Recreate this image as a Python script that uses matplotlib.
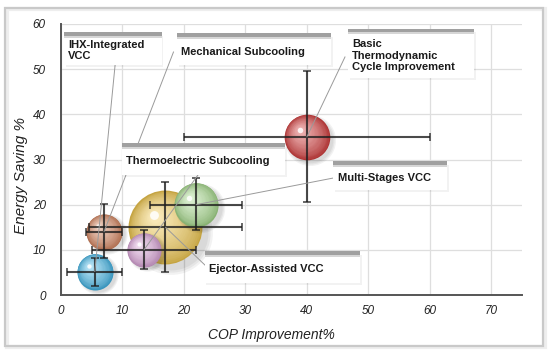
import matplotlib
matplotlib.use("Agg")
import numpy as np
import matplotlib.pyplot as plt
from matplotlib.patches import Rectangle
from matplotlib.transforms import offset_copy
from matplotlib.colors import to_rgb

plt.rcParams["font.family"] = ["Liberation Sans", "DejaVu Sans"]

# --------- DATA ---------
names = ["Basic\nThermodynamic\nCycle Improvement", "Multi-Stages VCC", "Ejector-Assisted VCC",
         "Thermoelectric Subcooling", "IHX-Integrated\nVCC", "Mechanical Subcooling"]
cop = [40, 22, 17, 13.5, 5.5, 7]          # COP improvement %
cop_lo = [20, 14.5, 4.5, 5, 1, 4.1]
cop_hi = [60, 29.5, 29.5, 22, 9.9, 9.9]
saving = [35, 20, 15, 10, 5.2, 14]        # energy saving %
sav_lo = [20.6, 14.4, 5, 5.8, 2, 8.2]
sav_hi = [49.6, 26, 25, 14.4, 8.2, 20.1]
weight = [16, 15, 42, 9, 10, 10]          # bubble magnitude
colors = ["#d23c3c", "#a6d98c", "#f0c850", "#d9a2d6", "#45b6e6", "#d4845e"]

# label boxes (x0, y0, x1, y1) in data units, leader start
boxes = [(46.7, 48.0, 67.2, 58.6), (44.3, 23.2, 62.8, 29.2), (23.4, 2.7, 48.7, 9.3),
         (9.9, 26.6, 36.5, 33.2), (0.5, 50.9, 16.4, 57.8), (18.9, 50.9, 44.0, 57.5)]
leader_start = [(46.2, 52.7), (44.3, 25.9), (23.9, 6.0), (22.3, 26.6), (8.8, 50.9), (18.3, 53.8)]

fig = plt.figure(figsize=(5.5, 3.54), dpi=100)
ax = fig.add_axes([61 / 550, 1 - 295 / 354, 461 / 550, 271 / 354])

# outer frame with soft shadow
for k, (c, lw) in enumerate([("#eeeeee", 3), ("#c9c9c9", 1.6)]):
    off = 1.5 / 550 if k == 0 else 0
    fig.patches.append(Rectangle((5 / 550 + off, 8 / 354 - off), 538 / 550, 338 / 354,
                                 transform=fig.transFigure, fill=False, ec=c, lw=lw))

ax.set_xlim(0, 75)
ax.set_ylim(0, 60)
ax.set_xticks(range(0, 71, 10))
ax.set_yticks(range(0, 61, 10))
ax.grid(color="#dedede", lw=0.9)
ax.set_axisbelow(True)
for s in ["top", "right"]:
    ax.spines[s].set_visible(False)
for s in ["left", "bottom"]:
    ax.spines[s].set_color("#555555")
    ax.spines[s].set_linewidth(1.4)
ax.tick_params(length=0, labelsize=8.5, labelcolor="#222222")
ax.tick_params(axis="x", pad=7)
ax.tick_params(axis="y", pad=11)
for t in ax.get_xticklabels() + ax.get_yticklabels():
    t.set_fontstyle("italic")
ax.set_xlabel("COP Improvement%", fontsize=10, fontstyle="italic", color="#222222")
ax.set_ylabel("Energy Saving %", fontsize=11, fontstyle="italic", color="#222222")
ax.xaxis.set_label_coords(0.456, -0.12)
ax.yaxis.set_label_coords(-0.072, 0.44)


def mix(a, b, t):
    a, b = np.array(to_rgb(a)), np.array(to_rgb(b))
    return tuple(a + (b - a) * t)


def sphere(x, y, r_pt, base, z):
    dark = mix(base, "black", 0.18)
    light = mix(base, "white", 0.6)
    # soft drop shadow
    for k in [1.12, 1.06, 1.0]:
        tr = offset_copy(ax.transData, fig=fig, x=r_pt * 0.15, y=-r_pt * 0.15, units="points")
        ax.scatter([x], [y], s=(2 * r_pt * k) ** 2, color="black", alpha=0.05, lw=0,
                   transform=tr, zorder=z)
    n = 26
    for i in range(n):
        t = i / (n - 1)
        rad = r_pt * (1 - 0.88 * t)
        off = r_pt * 0.3 * t
        tr = offset_copy(ax.transData, fig=fig, x=-off, y=off, units="points")
        ax.scatter([x], [y], s=(2 * rad) ** 2, color=mix(dark, light, t ** 0.7), lw=0,
                   transform=tr, zorder=z)
    tr = offset_copy(ax.transData, fig=fig, x=-r_pt * 0.32, y=r_pt * 0.32, units="points")
    ax.scatter([x], [y], s=(2 * r_pt * 0.12) ** 2, color="white", alpha=0.85, lw=0,
               transform=tr, zorder=z)


order = sorted(range(len(cop)), key=lambda i: -weight[i])
for rank, i in enumerate(order):
    r_px = 5.7 * np.sqrt(weight[i])
    sphere(cop[i], saving[i], r_px * 0.72, colors[i], 2 + rank * 0.1)

cop_a, saving_a = np.array(cop), np.array(saving)
ax.errorbar(cop, saving,
            xerr=[cop_a - np.array(cop_lo), np.array(cop_hi) - cop_a],
            yerr=[saving_a - np.array(sav_lo), np.array(sav_hi) - saving_a],
            fmt="none", ecolor="#1e1e1e", alpha=0.8, elinewidth=1.5, capsize=3,
            capthick=1.2, zorder=5)

# leader lines and label boxes
for i, name in enumerate(names):
    x0, y0, x1, y1 = boxes[i]
    sx, sy = leader_start[i]
    ax.plot([sx, cop[i]], [sy, saving[i]], color="#9a9a9a", lw=0.7, zorder=6, clip_on=False)
    ax.add_patch(Rectangle((x0 + 0.25, y0 - 0.4), x1 - x0, y1 - y0, fc="#000000", alpha=0.05,
                           ec="none", zorder=6.5, clip_on=False))
    ax.add_patch(Rectangle((x0, y0), x1 - x0, y1 - y0, fc="white", ec="none", zorder=7,
                           clip_on=False))
    ax.add_patch(Rectangle((x0, y1 - 0.4), x1 - x0, 0.8, fc="#a0a0a0", ec="none", zorder=7.1,
                           clip_on=False))
    ax.add_patch(Rectangle((x0, y1 - 0.9), x1 - x0, 0.5, fc="#d6d6d6", ec="none", zorder=7.1,
                           clip_on=False))
    ax.text(x0 + 0.7, (y0 + y1) / 2 - 0.3, name, fontsize=8, fontweight="bold",
            color="#1a1a1a", ha="left", va="center", linespacing=1.15, zorder=8)

fig.savefig("out.png", dpi=100)
